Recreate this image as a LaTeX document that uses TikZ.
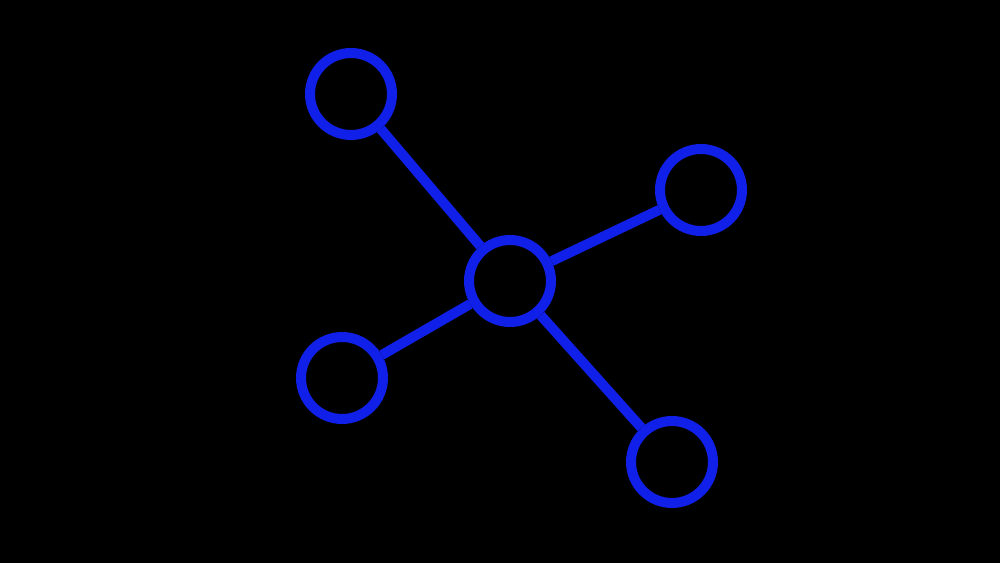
\documentclass[tikz,border=0pt]{standalone}
\definecolor{netblue}{RGB}{16,32,232}
\begin{document}
\begin{tikzpicture}[x=0.02cm,y=-0.02cm,
  hub/.style={circle,draw=netblue,line width=0.2cm,minimum size=1.64cm,inner sep=0pt},
  link/.style={draw=netblue,line width=0.2cm}]
\fill[black] (0,0) rectangle (1000,563);
\useasboundingbox (0,0) rectangle (1000,563);
\node[hub] (c) at (510,281) {};
\node[hub] (tl) at (351,94) {};
\node[hub] (r) at (701,190) {};
\node[hub] (l) at (342,378) {};
\node[hub] (br) at (672,462) {};
\draw[link] (c) -- (tl);
\draw[link] (c) -- (r);
\draw[link] (c) -- (l);
\draw[link] (c) -- (br);
\end{tikzpicture}
\end{document}
